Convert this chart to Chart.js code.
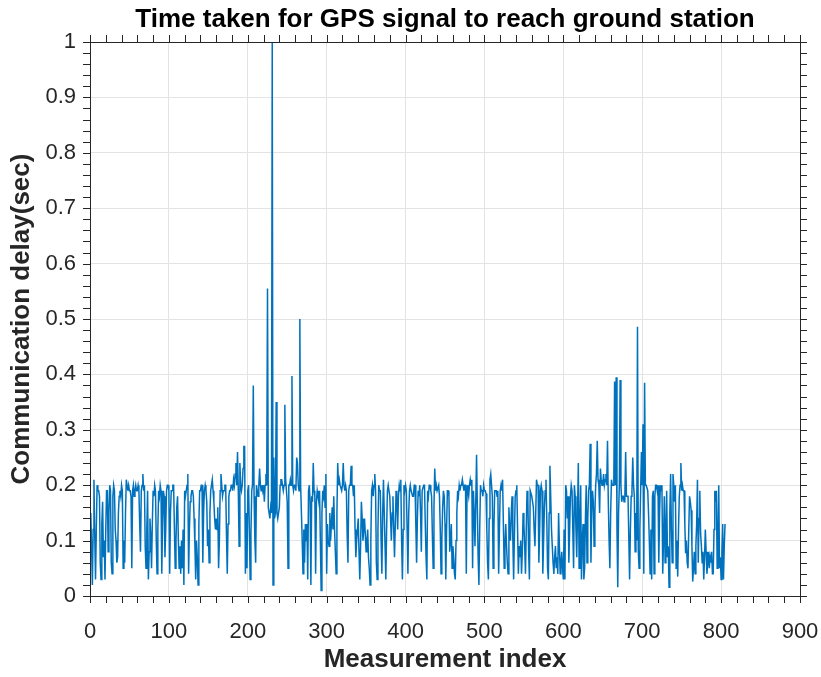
<!DOCTYPE html>
<html>
<head>
<meta charset="utf-8">
<script src="https://cdn.jsdelivr.net/npm/chart.js@4/dist/chart.umd.min.js"></script>
<style>
  html, body { margin: 0; padding: 0; background: #ffffff; }
  #wrap { width: 821px; height: 677px; }
</style>
</head>
<body>
<div id="wrap"><canvas id="c" width="821" height="677"></canvas></div>
<script>
// Communication delay (seconds) per measurement, index 0..805
const delaySec = [
  // 0
  0.14, 0.15, 0.09, 0.02, 0.12, 0.21, 0.11, 0.03, 0.12, 0.2,
  0.19, 0.19, 0.18, 0.06, 0.03, 0.13, 0.17, 0.07, 0.1, 0.03,
  0.12, 0.19, 0.19, 0.08, 0.15, 0.2, 0.19, 0.06, 0.04, 0.18,
  0.2, 0.19, 0.12, 0.1, 0.06, 0.07, 0.15, 0.18, 0.19, 0.18,
  0.2, 0.19, 0.05, 0.1, 0.06, 0.15, 0.21, 0.2, 0.19, 0.2,
  0.19, 0.19, 0.18, 0.05, 0.19, 0.2, 0.18, 0.19, 0.2, 0.19,
  0.19, 0.2, 0.19, 0.13, 0.08, 0.19, 0.2, 0.22, 0.19, 0.2,
  0.09, 0.05, 0.12, 0.19, 0.03, 0.08, 0.14, 0.11, 0.05, 0.13,
  0.19, 0.18, 0.2, 0.19, 0.1, 0.04, 0.12, 0.19, 0.18, 0.2,
  0.19, 0.04, 0.13, 0.19, 0.18, 0.07, 0.12, 0.19, 0.2, 0.2,
  // 100
  0.19, 0.04, 0.15, 0.19, 0.19, 0.2, 0.2, 0.12, 0.05, 0.1,
  0.16, 0.18, 0.1, 0.05, 0.09, 0.04, 0.1, 0.05, 0.12, 0.02,
  0.19, 0.18, 0.19, 0.2, 0.22, 0.04, 0.12, 0.17, 0.18, 0.19,
  0.19, 0.18, 0.14, 0.09, 0.03, 0.1, 0.07, 0.02, 0.13, 0.19,
  0.19, 0.2, 0.2, 0.06, 0.15, 0.19, 0.2, 0.19, 0.17, 0.09,
  0.12, 0.06, 0.15, 0.19, 0.2, 0.21, 0.19, 0.17, 0.14, 0.12,
  0.14, 0.12, 0.16, 0.05, 0.1, 0.19, 0.22, 0.2, 0.18, 0.19,
  0.19, 0.2, 0.2, 0.11, 0.04, 0.13, 0.18, 0.19, 0.19, 0.2,
  0.2, 0.19, 0.21, 0.2, 0.22, 0.24, 0.2, 0.26, 0.19, 0.09,
  0.24, 0.2, 0.19, 0.2, 0.23, 0.27, 0.27, 0.04, 0.15, 0.05,
  // 200
  0.19, 0.2, 0.12, 0.03, 0.11, 0.19, 0.2, 0.38, 0.18, 0.1,
  0.06, 0.2, 0.19, 0.18, 0.2, 0.23, 0.2, 0.19, 0.2, 0.19,
  0.2, 0.17, 0.2, 0.22, 0.2, 0.555, 0.16, 0.15, 0.14, 0.16,
  0.15, 1.0, 0.02, 0.25, 0.14, 0.15, 0.35, 0.15, 0.14, 0.15,
  0.16, 0.2, 0.21, 0.21, 0.2, 0.19, 0.2, 0.345, 0.21, 0.19,
  0.17, 0.05, 0.2, 0.2, 0.21, 0.2, 0.397, 0.2, 0.19, 0.2,
  0.2, 0.19, 0.25, 0.24, 0.2, 0.19, 0.5, 0.2, 0.15, 0.1,
  0.04, 0.12, 0.06, 0.13, 0.1, 0.13, 0.03, 0.19, 0.2, 0.17,
  0.02, 0.18, 0.17, 0.24, 0.19, 0.18, 0.04, 0.17, 0.19, 0.18,
  0.17, 0.19, 0.1, 0.01, 0.15, 0.19, 0.18, 0.2, 0.16, 0.22,
  // 300
  0.04, 0.13, 0.1, 0.09, 0.15, 0.1, 0.13, 0.16, 0.12, 0.18,
  0.12, 0.08, 0.04, 0.15, 0.24, 0.2, 0.21, 0.2, 0.2, 0.19,
  0.2, 0.24, 0.2, 0.19, 0.2, 0.19, 0.11, 0.06, 0.19, 0.2,
  0.2, 0.235, 0.2, 0.2, 0.18, 0.2, 0.12, 0.07, 0.1, 0.12,
  0.14, 0.08, 0.03, 0.09, 0.17, 0.14, 0.1, 0.12, 0.14, 0.11,
  0.08, 0.1, 0.12, 0.07, 0.05, 0.02, 0.1, 0.19, 0.2, 0.18,
  0.2, 0.22, 0.19, 0.06, 0.03, 0.12, 0.2, 0.19, 0.19, 0.1,
  0.04, 0.15, 0.21, 0.15, 0.09, 0.03, 0.12, 0.19, 0.2, 0.2,
  0.18, 0.14, 0.1, 0.15, 0.18, 0.12, 0.07, 0.13, 0.19, 0.17,
  0.12, 0.18, 0.2, 0.19, 0.21, 0.1, 0.03, 0.12, 0.2, 0.19,
  // 400
  0.2, 0.19, 0.12, 0.04, 0.15, 0.19, 0.2, 0.19, 0.19, 0.18,
  0.18, 0.2, 0.2, 0.13, 0.06, 0.14, 0.19, 0.18, 0.2, 0.15,
  0.08, 0.19, 0.19, 0.2, 0.2, 0.13, 0.07, 0.03, 0.19, 0.18,
  0.2, 0.2, 0.19, 0.18, 0.11, 0.05, 0.16, 0.23, 0.19, 0.2,
  0.19, 0.19, 0.2, 0.18, 0.12, 0.04, 0.1, 0.16, 0.19, 0.18,
  0.13, 0.03, 0.12, 0.19, 0.19, 0.18, 0.08, 0.1, 0.13, 0.05,
  0.09, 0.07, 0.04, 0.03, 0.1, 0.15, 0.19, 0.18, 0.2, 0.19,
  0.2, 0.2, 0.21, 0.2, 0.19, 0.2, 0.2, 0.04, 0.2, 0.19,
  0.18, 0.2, 0.21, 0.2, 0.21, 0.05, 0.19, 0.15, 0.09, 0.17,
  0.255, 0.16, 0.07, 0.02, 0.12, 0.2, 0.19, 0.19, 0.18, 0.2,
  // 500
  0.19, 0.19, 0.185, 0.12, 0.06, 0.03, 0.14, 0.21, 0.22, 0.2,
  0.18, 0.05, 0.12, 0.19, 0.19, 0.19, 0.18, 0.19, 0.04, 0.12,
  0.19, 0.2, 0.19, 0.21, 0.13, 0.05, 0.09, 0.13, 0.09, 0.06,
  0.04, 0.16, 0.12, 0.1, 0.15, 0.18, 0.1, 0.03, 0.11, 0.18,
  0.19, 0.2, 0.12, 0.04, 0.09, 0.07, 0.1, 0.04, 0.08, 0.15,
  0.13, 0.09, 0.04, 0.12, 0.19, 0.18, 0.08, 0.03, 0.19, 0.19,
  0.18, 0.17, 0.16, 0.12, 0.09, 0.15, 0.21, 0.2, 0.2, 0.06,
  0.12, 0.19, 0.2, 0.19, 0.04, 0.1, 0.16, 0.19, 0.21, 0.14,
  0.05, 0.03, 0.15, 0.235, 0.18, 0.12, 0.09, 0.06, 0.04, 0.07,
  0.09, 0.05, 0.07, 0.04, 0.15, 0.09, 0.04, 0.06, 0.08, 0.05,
  // 600
  0.03, 0.12, 0.03, 0.2, 0.19, 0.14, 0.18, 0.06, 0.12, 0.18,
  0.2, 0.19, 0.19, 0.05, 0.2, 0.18, 0.12, 0.07, 0.15, 0.24,
  0.05, 0.13, 0.2, 0.03, 0.1, 0.13, 0.03, 0.05, 0.14, 0.2,
  0.06, 0.14, 0.19, 0.2, 0.275, 0.06, 0.15, 0.19, 0.17, 0.09,
  0.15, 0.2, 0.22, 0.28, 0.21, 0.2, 0.15, 0.23, 0.21, 0.2,
  0.2, 0.22, 0.2, 0.21, 0.22, 0.2, 0.28, 0.17, 0.1, 0.05,
  0.15, 0.21, 0.2, 0.2, 0.21, 0.387, 0.2, 0.395, 0.12, 0.016,
  0.15, 0.2, 0.39, 0.2, 0.17, 0.18, 0.18, 0.17, 0.18, 0.26,
  0.18, 0.18, 0.18, 0.18, 0.03, 0.12, 0.18, 0.19, 0.25, 0.2,
  0.18, 0.08, 0.15, 0.1, 0.486, 0.083, 0.05, 0.12, 0.19, 0.26,
  // 700
  0.2, 0.31, 0.04, 0.385, 0.2, 0.2, 0.2, 0.19, 0.15, 0.1,
  0.04, 0.12, 0.03, 0.18, 0.19, 0.04, 0.18, 0.2, 0.2, 0.19,
  0.2, 0.06, 0.15, 0.2, 0.19, 0.2, 0.04, 0.1, 0.18, 0.06,
  0.12, 0.19, 0.07, 0.09, 0.016, 0.15, 0.22, 0.12, 0.06, 0.22,
  0.2, 0.17, 0.2, 0.05, 0.1, 0.035, 0.12, 0.18, 0.2, 0.24,
  0.19, 0.2, 0.19, 0.19, 0.13, 0.077, 0.1, 0.06, 0.05, 0.12,
  0.18, 0.17, 0.155, 0.09, 0.026, 0.05, 0.08, 0.04, 0.09, 0.13,
  0.21, 0.06, 0.14, 0.19, 0.113, 0.09, 0.06, 0.08, 0.03, 0.07,
  0.12, 0.08, 0.04, 0.06, 0.08, 0.05, 0.07, 0.06, 0.08, 0.04,
  0.04, 0.12, 0.19, 0.17, 0.19, 0.05, 0.1, 0.2, 0.05, 0.07,
  // 800
  0.03, 0.08, 0.13, 0.03, 0.09, 0.13
];

// Axis ranges and tick spacing
const xRange = [0, 900];
const yRange = [0, 1];
const xMajorStep = 100;
const yMajorStep = 0.1;
const xMinorStep = 20;
const yMinorStep = 0.02;

const titleText = 'Time taken for GPS signal to reach ground station';
const xTitle = 'Measurement index';
const yTitle = 'Communication delay(sec)';

const FONT = "'Liberation Sans', Arial, Helvetica, sans-serif";
const AXIS_COLOR = '#262626';

const points = delaySec.map((v, i) => ({ x: i, y: v }));

// Box around the plot plus outward tick marks on all four sides
const axesBox = {
  id: 'axesBox',
  afterDatasetsDraw(chart) {
    const { ctx, chartArea: a, scales: { x, y } } = chart;
    const len = 7;
    ctx.save();
    ctx.strokeStyle = AXIS_COLOR;
    ctx.lineWidth = 1;
    ctx.beginPath();
    const nX = Math.round((xRange[1] - xRange[0]) / xMinorStep);
    for (let k = 0; k <= nX; k++) {
      const px = Math.round(x.getPixelForValue(xRange[0] + k * xMinorStep)) + 0.5;
      ctx.moveTo(px, a.bottom); ctx.lineTo(px, a.bottom + len);
      ctx.moveTo(px, a.top); ctx.lineTo(px, a.top - len);
    }
    const nY = Math.round((yRange[1] - yRange[0]) / yMinorStep);
    for (let k = 0; k <= nY; k++) {
      const py = Math.round(y.getPixelForValue(yRange[0] + k * yMinorStep)) + 0.5;
      ctx.moveTo(a.left, py); ctx.lineTo(a.left - len, py);
      ctx.moveTo(a.right, py); ctx.lineTo(a.right + len, py);
    }
    ctx.stroke();
    ctx.strokeRect(Math.round(a.left) + 0.5, Math.round(a.top) + 0.5,
                   Math.round(a.right - a.left), Math.round(a.bottom - a.top));
    ctx.restore();
  },
  // Title centred over the plotting area
  afterDraw(chart) {
    const { ctx, chartArea: a } = chart;
    ctx.save();
    ctx.fillStyle = '#000000';
    ctx.font = "bold 26px " + FONT;
    ctx.textAlign = 'center';
    ctx.textBaseline = 'alphabetic';
    ctx.fillText(titleText, (a.left + a.right) / 2, 27);
    ctx.restore();
  }
};

new Chart(document.getElementById('c'), {
  type: 'line',
  data: {
    datasets: [{
      data: points,
      borderColor: '#0072BD',
      borderWidth: 1.5,
      pointRadius: 0,
      tension: 0,
      fill: false
    }]
  },
  options: {
    responsive: false,
    animation: false,
    layout: { padding: { left: 0, right: 21, top: 42, bottom: 0 } },
    plugins: {
      legend: { display: false },
      tooltip: { enabled: false },
      title: { display: false }
    },
    scales: {
      x: {
        type: 'linear',
        min: xRange[0],
        max: xRange[1],
        afterFit(scale) {
          scale.height = 81;
          scale.paddingLeft = 0;
          scale.paddingRight = 0;
        },
        border: { display: false },
        grid: { color: '#e3e3e3', lineWidth: 1, drawTicks: false },
        ticks: {
          stepSize: xMajorStep,
          color: AXIS_COLOR,
          font: { family: FONT, size: 22 },
          padding: 23,
          maxRotation: 0
        },
        title: {
          display: true,
          text: xTitle,
          color: AXIS_COLOR,
          font: { family: FONT, size: 26, weight: 'bold', lineHeight: 1.2 },
          padding: { top: 0, bottom: 1.5 }
        }
      },
      y: {
        type: 'linear',
        min: yRange[0],
        max: yRange[1],
        afterFit(scale) {
          scale.width = 90;
          scale.paddingTop = 0;
          scale.paddingBottom = 0;
        },
        border: { display: false },
        grid: { color: '#e3e3e3', lineWidth: 1, drawTicks: false },
        ticks: {
          stepSize: yMajorStep,
          color: AXIS_COLOR,
          font: { family: FONT, size: 22 },
          padding: 14,
          callback: (v) => String(Number(v.toFixed(1)))
        },
        title: {
          display: true,
          text: yTitle,
          color: AXIS_COLOR,
          font: { family: FONT, size: 26, weight: 'bold', lineHeight: 1.2 },
          padding: { top: 6, bottom: 0 }
        }
      }
    }
  },
  plugins: [axesBox]
});
</script>
</body>
</html>
